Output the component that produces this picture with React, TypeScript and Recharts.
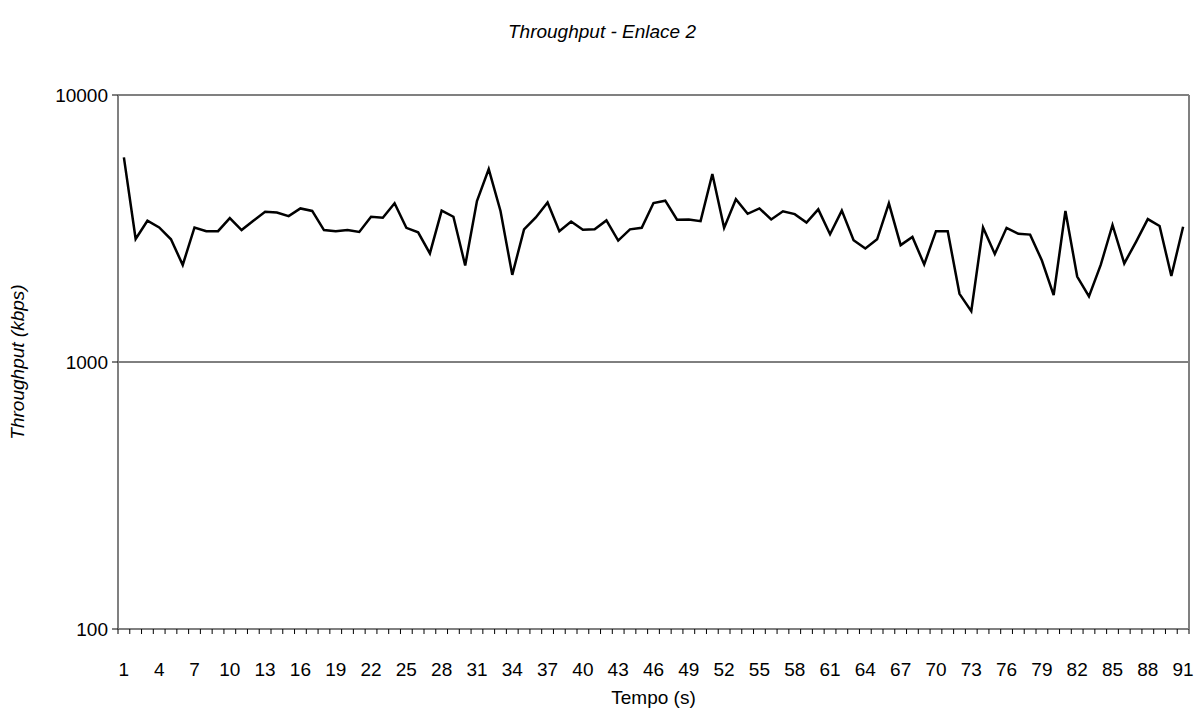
import { LineChart, Line, XAxis, YAxis, ReferenceLine } from 'recharts'

const times = [
  1, 2, 3, 4, 5, 6, 7, 8, 9, 10, 11, 12, 13, 14, 15, 16, 17, 18, 19, 20,
  21, 22, 23, 24, 25, 26, 27, 28, 29, 30, 31, 32, 33, 34, 35, 36, 37, 38, 39, 40,
  41, 42, 43, 44, 45, 46, 47, 48, 49, 50, 51, 52, 53, 54, 55, 56, 57, 58, 59, 60,
  61, 62, 63, 64, 65, 66, 67, 68, 69, 70, 71, 72, 73, 74, 75, 76, 77, 78, 79, 80,
  81, 82, 83, 84, 85, 86, 87, 88, 89, 90, 91,
]

// kbps
const throughput = [
  5840, 2890, 3380, 3190, 2880, 2310, 3190, 3090, 3090, 3460, 3120, 3380, 3650,
  3630, 3520, 3760, 3680, 3120, 3090, 3120, 3070, 3500, 3470, 3930, 3180, 3060,
  2550, 3690, 3500, 2300, 4010, 5280, 3680, 2120, 3140, 3480, 3960, 3090, 3360,
  3130, 3140, 3390, 2850, 3140, 3180, 3940, 4020, 3410, 3420, 3370, 5060, 3180,
  4070, 3590, 3760, 3420, 3670, 3580, 3330, 3730, 3010, 3690, 2860, 2660, 2880,
  3930, 2740, 2940, 2320, 3090, 3090, 1800, 1550, 3190, 2540, 3180, 3020, 3000,
  2400, 1780, 3680, 2090, 1760, 2310, 3260, 2340, 2820, 3430, 3230, 2100, 3210,
]

const xTickLabels = [1, 4, 7, 10, 13, 16, 19, 22, 25, 28, 31, 34, 37, 40, 43, 46, 49, 52, 55, 58, 61, 64, 67, 70, 73, 76, 79, 82, 85, 88, 91]
const yTicks = [100, 1000, 10000]

const W = 1204
const H = 709
const LEFT = 118
const RIGHT = 15
const TOP = 95
const BOTTOM = 80
const PLOT_W = W - LEFT - RIGHT
const FONT = '"Liberation Sans", Arial, sans-serif'
const BORDER = '#808080'

const data = times.map((t, i) => ({ t, v: throughput[i] }))

// tick marks sit between categories, labels every 3rd category
function XTick(props: any) {
  const { x, y, payload } = props
  const half = PLOT_W / times.length / 2
  const v = payload.value
  return (
    <g>
      <line x1={x - half} x2={x - half} y1={y} y2={y + 5} stroke="#000" />
      {v === times[times.length - 1] && (
        <line x1={x + half} x2={x + half} y1={y} y2={y + 5} stroke="#000" />
      )}
      {xTickLabels.includes(v) && (
        <text x={x} y={y + 47} textAnchor="middle" fontSize={19} fill="#000" fontFamily={FONT}>
          {v}
        </text>
      )}
    </g>
  )
}

export default function App() {
  return (
    <div style={{ position: 'absolute', left: 0, top: 0, width: W, height: H, background: '#fff', fontFamily: FONT }}>
      <div
        style={{
          position: 'absolute', left: 0, top: 20, width: W, textAlign: 'center',
          fontSize: 19, fontStyle: 'italic', color: '#000', lineHeight: '24px',
        }}
      >
        Throughput - Enlace 2
      </div>
      <div
        style={{
          position: 'absolute', left: 18, top: 362, width: 300, marginLeft: -150, marginTop: -12,
          textAlign: 'center', fontSize: 19, fontStyle: 'italic', color: '#000', lineHeight: '24px',
          transform: 'rotate(-90deg)',
        }}
      >
        Throughput (kbps)
      </div>
      <div
        style={{
          position: 'absolute', left: LEFT, top: 686, width: PLOT_W, textAlign: 'center',
          fontSize: 19, color: '#000', lineHeight: '24px',
        }}
      >
        Tempo (s)
      </div>
      <LineChart width={W} height={H} data={data} margin={{ top: TOP, right: 0, left: 0, bottom: 0 }}>
        <XAxis
          dataKey="t"
          type="number"
          domain={[0.5, 91.5]}
          ticks={times}
          interval={0}
          tick={<XTick />}
          tickLine={false}
          tickSize={0}
          tickMargin={0}
          height={BOTTOM}
          axisLine={{ stroke: BORDER, strokeWidth: 2 }}
        />
        <YAxis
          scale="log"
          domain={[100, 10000]}
          ticks={yTicks}
          allowDataOverflow
          width={LEFT}
          tickSize={6}
          tickMargin={4}
          tick={{ fontSize: 19, fill: '#000', fontFamily: FONT }}
          tickLine={{ stroke: '#000' }}
          axisLine={{ stroke: BORDER, strokeWidth: 2 }}
        />
        <YAxis
          yAxisId="r"
          orientation="right"
          scale="log"
          domain={[100, 10000]}
          allowDataOverflow
          width={RIGHT}
          tick={false}
          tickLine={false}
          axisLine={{ stroke: BORDER, strokeWidth: 2 }}
        />
        <ReferenceLine y={1000} stroke="#000" strokeWidth={1} />
        <ReferenceLine y={10000} stroke={BORDER} strokeWidth={2} />
        <Line
          dataKey="v"
          type="linear"
          stroke="#000"
          strokeWidth={2.5}
          dot={false}
          isAnimationActive={false}
        />
      </LineChart>
    </div>
  )
}
